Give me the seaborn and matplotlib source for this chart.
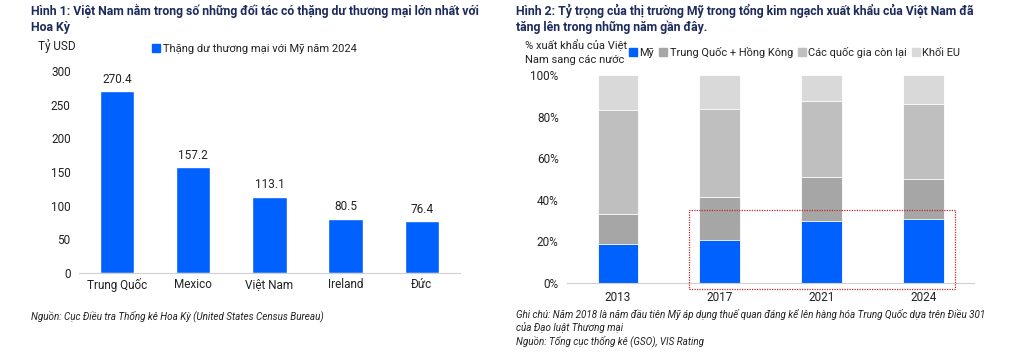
import numpy as np
import pandas as pd
import matplotlib
matplotlib.use("Agg")
import matplotlib.pyplot as plt
import seaborn as sns
from matplotlib.patches import Rectangle
from matplotlib.lines import Line2D

# --- data ---
countries = ["Trung Quốc", "Mexico", "Việt Nam", "Ireland", "Đức"]
surplus = [270.4, 157.2, 113.1, 80.5, 76.4]

years = ["2013", "2017", "2021", "2024"]
share_us = [19.0, 20.7, 29.9, 30.8]
share_cn_hk = [14.2, 20.7, 21.0, 19.1]
share_rest = [49.9, 42.2, 36.4, 36.3]
share_eu = [16.9, 16.4, 12.7, 13.8]
series_names = ["Mỹ", "Trung Quốc + Hồng Kông", "Các quốc gia còn lại", "Khối EU"]

blue = "#0061FE"
grays = ["#A6A6A6", "#BFBFBF", "#D9D9D9"]
navy = "#1C2A5C"
txt = "#222222"

sns.set_theme(style="white")
plt.rcParams["font.family"] = ["Roboto", "DejaVu Sans"]
plt.rcParams["axes.unicode_minus"] = False

fig = plt.figure(figsize=(10.15, 3.53), dpi=100)
ax1 = fig.add_axes([0.0778, 0.2275, 0.3752, 0.5705])
ax2 = fig.add_axes([0.5586, 0.198, 0.4014, 0.5895])

# --- chart 1 ---
df1 = pd.DataFrame({"country": countries, "value": surplus})
sns.barplot(data=df1, x="country", y="value", color=blue, width=0.45,
            saturation=1, ax=ax1)
for i, v in enumerate(surplus):
    ax1.text(i, v + 8, f"{v:.1f}", ha="center", va="bottom", fontsize=8.5, color=txt)
ax1.set_ylim(0, 300)
ax1.set_xlim(-0.5, 4.5)
ax1.set_yticks(range(0, 301, 50))
ax1.set_xlabel("")
ax1.set_ylabel("")
ax1.tick_params(axis="both", labelsize=8.5, colors=txt, length=0, pad=6)
ax1.tick_params(axis="x", pad=4)
for s in ["top", "right", "left"]:
    ax1.spines[s].set_visible(False)
ax1.spines["bottom"].set_color("#D0D0D0")
ax1.spines["bottom"].set_linewidth(0.8)

fig.text(38 / 1015, 1 - 46 / 353, "Tỷ USD", fontsize=8.5, color=txt, va="center")
fig.legend(handles=[Line2D([], [], marker="s", ls="", color=blue, markersize=5.5)],
           labels=["Thặng dư thương mại với Mỹ năm 2024"],
           loc="center left", bbox_to_anchor=(152 / 1015, 1 - 49 / 353),
           frameon=False, fontsize=8.0, handlelength=0.7, handletextpad=0.25,
           borderaxespad=0, borderpad=0, labelcolor=txt)

# --- chart 2 (stacked) ---
layers = [share_us, share_cn_hk, share_rest, share_eu]
cum = np.cumsum(np.array(layers), axis=0)
colors2 = [blue] + grays
for k in range(len(layers) - 1, -1, -1):
    dfk = pd.DataFrame({"year": years, "top": cum[k]})
    sns.barplot(data=dfk, x="year", y="top", color=colors2[k], width=0.4,
                saturation=1, ax=ax2, edgecolor="white", linewidth=0.6)
ax2.set_ylim(0, 100)
ax2.set_xlim(-0.5, 3.5)
ax2.set_yticks(range(0, 101, 20))
ax2.set_yticklabels([f"{t}%" for t in range(0, 101, 20)])
ax2.set_xlabel("")
ax2.set_ylabel("")
ax2.tick_params(axis="both", labelsize=8.5, colors=txt, length=0, pad=6)
ax2.tick_params(axis="x", pad=6)
for s in ["top", "right", "left"]:
    ax2.spines[s].set_visible(False)
ax2.spines["bottom"].set_color("#D0D0D0")
ax2.spines["bottom"].set_linewidth(0.8)
ax2.add_patch(Rectangle((0.70, -2.9), 2.61, 38.2, fill=False, ec="#C0272D",
                        ls=(0, (1, 1)), lw=0.9, clip_on=False, zorder=5))

fig.text(525 / 1015, 1 - 52 / 353, "% xuất khẩu của Việt\nNam sang các nước",
         fontsize=8, color=txt, va="center", linespacing=1.5)
handles2 = [Line2D([], [], marker="s", ls="", color=c, markersize=5.5) for c in colors2]
fig.legend(handles=handles2, labels=series_names, loc="center left",
           bbox_to_anchor=(629 / 1015, 1 - 52 / 353), ncol=4, frameon=False,
           fontsize=7.9, handlelength=0.7, handletextpad=0.25, columnspacing=0.45,
           borderaxespad=0, borderpad=0, labelcolor=txt)

# --- titles ---
fig.text(31 / 1015, 1 - 4 / 353,
         "Hình 1: Việt Nam nằm trong số những đối tác có thặng dư thương mại lớn nhất với\nHoa Kỳ",
         fontsize=8.8, fontweight="bold", color=navy, va="top", linespacing=1.25)
fig.text(516 / 1015, 1 - 4 / 353,
         "Hình 2: Tỷ trọng của thị trường Mỹ trong tổng kim ngạch xuất khẩu của Việt Nam đã\ntăng lên trong những năm gần đây.",
         fontsize=8.8, fontweight="bold", color=navy, va="top", linespacing=1.25)

# --- notes ---
fig.text(31 / 1015, 1 - 316 / 353,
         "Nguồn: Cục Điều tra Thống kê Hoa Kỳ (United States Census Bureau)",
         fontsize=7.1, style="italic", color=txt, va="center")
fig.text(516 / 1015, 1 - 309 / 353,
         "Ghi chú: Năm 2018 là năm đầu tiên Mỹ áp dụng thuế quan đáng kể lên hàng hóa Trung Quốc dựa trên Điều 301\n"
         "của Đạo luật Thương mại\nNguồn: Tổng cục thống kê (GSO), VIS Rating",
         fontsize=7.1, style="italic", color=txt, va="top", linespacing=1.25)

fig.savefig("out.png", dpi=100)
